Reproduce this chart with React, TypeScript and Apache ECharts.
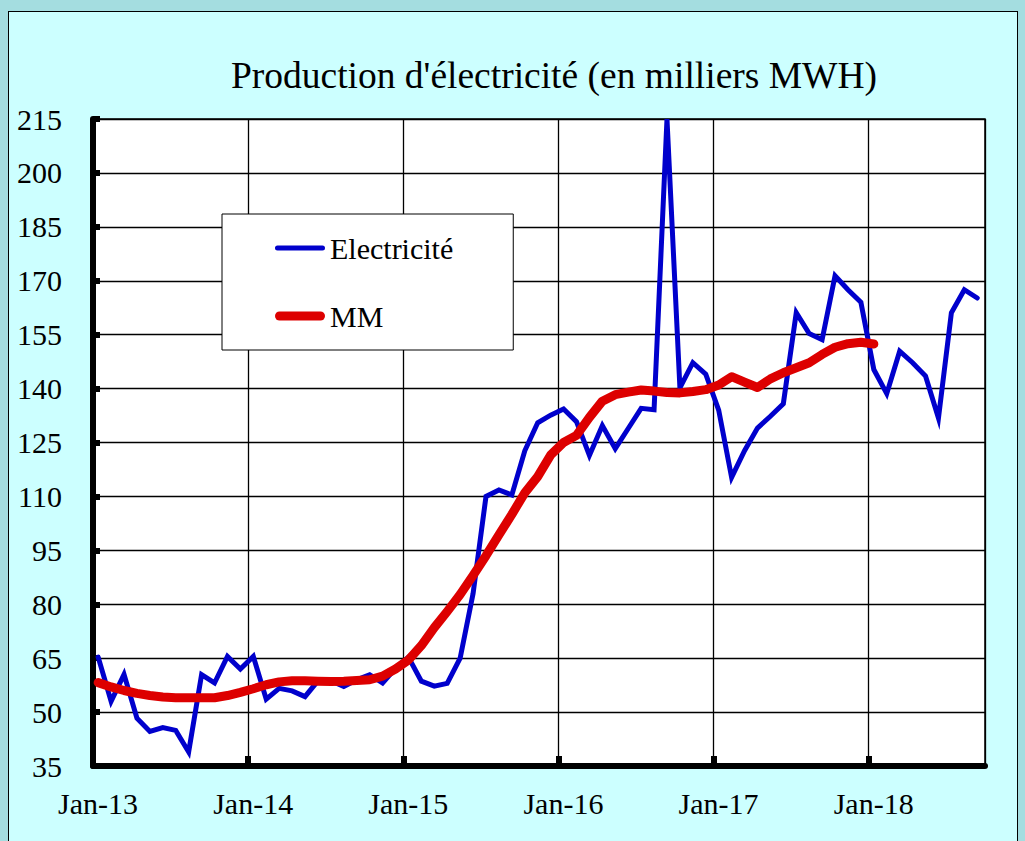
import React, { useEffect, useRef } from "react";
import * as echarts from "echarts";

// ---------- data ----------
const xTickLabels = ["Jan-13", "Jan-14", "Jan-15", "Jan-16", "Jan-17", "Jan-18"];
const yTickLabels = ["35", "50", "65", "80", "95", "110", "125", "140", "155", "170", "185", "200", "215"];
const seriesNames = ["Electricité", "MM"];
const titleText = "Production d'électricité (en milliers MWH)";

// monthly values, Jan-13 .. Sep-18
const electricite = [
  65.3, 53, 60.5, 48.3, 44.6, 45.7, 44.9, 38.9, 60.4, 58.1, 65.5, 62,
  65.5, 53.6, 56.6, 55.9, 54.3, 58.7, 58.7, 57.1, 59, 60.4, 58.1, 62.2,
  65.3, 58.6, 57.2, 58, 65, 83, 110, 111.8, 110.4, 122.7, 130.5, 132.6,
  134.3, 130.8, 121.4, 129.7, 123.3, 128.9, 134.5, 134.1, 215, 140.2, 147.2, 144,
  134, 115.3, 122.7, 129, 132.3, 135.8, 161.1, 155.3, 153.6, 171.4, 167.5, 164,
  145.3, 138.6, 150.4, 147.2, 143.5, 131.8, 161.1, 167.5, 165.2,
];

// moving average, Jan-13 .. Jan-18
const mm = [
  58.2, 57.0, 56.0, 55.2, 54.6, 54.2, 54.0, 54.0, 54.0, 54.0, 54.6, 55.5,
  56.5, 57.6, 58.4, 58.7, 58.7, 58.6, 58.5, 58.6, 58.8, 59.0, 60.0, 62.0,
  64.5, 68.5, 73.5, 78.0, 82.7, 88.0, 93.5, 99.3, 105.0, 111.0, 115.5, 121.5,
  125.0, 127.0, 132.0, 136.5, 138.3, 139.0, 139.6, 139.3, 138.9, 138.8, 139.2, 139.7,
  141.0, 143.3, 141.8, 140.3, 142.7, 144.4, 145.8, 147.2, 149.5, 151.5, 152.5, 152.9,
  152.4,
];

const Y_BASE = 35; // lowest tick
const Y_STEP = 15;
const MONTHS_SHOWN = 69;
const POINT_IN_MONTH = 0.4; // values dated within the month

const FONT = "'Liberation Serif', 'DejaVu Serif', serif";

// legend line icons (rounded bars of the series' thickness)
const BLUE_ICON = "path://M2.5,0 L47.5,0 A2.5,2.5 0 0 1 47.5,5 L2.5,5 A2.5,2.5 0 0 1 2.5,0 Z";
const RED_ICON = "path://M4.5,0 L45.5,0 A4.5,4.5 0 0 1 45.5,9 L4.5,9 A4.5,4.5 0 0 1 4.5,0 Z";

export default function App() {
  const ref = useRef<HTMLDivElement>(null);

  useEffect(() => {
    if (!ref.current) return;
    const chart = echarts.init(ref.current, undefined, { renderer: "svg" });

    const toPts = (arr: number[]) => arr.map((v, i) => [i + POINT_IN_MONTH, v - Y_BASE]);

    chart.setOption({
      animation: false,
      backgroundColor: "transparent",
      graphic: [
        {
          type: "text",
          x: 554,
          y: 75,
          silent: true,
          style: {
            text: titleText,
            fontSize: 37.5,
            fontFamily: FONT,
            fill: "#000",
            align: "center",
            verticalAlign: "middle",
          },
        },
      ],
      legend: {
        orient: "vertical",
        left: 222,
        top: 214,
        padding: [19, 60, 19, 53],
        itemGap: 38,
        itemWidth: 50,
        itemHeight: 14,
        backgroundColor: "#fff",
        borderColor: "#000",
        borderWidth: 1,
        borderRadius: 0,
        data: [
          { name: seriesNames[0], icon: BLUE_ICON },
          { name: seriesNames[1], icon: RED_ICON },
        ],
        textStyle: { fontFamily: FONT, fontSize: 30, color: "#000", lineHeight: 30 },
      },
      grid: {
        left: 93,
        right: 40,
        top: 119,
        bottom: 75,
        show: true,
        backgroundColor: "#fff",
        borderColor: "#000",
        borderWidth: 1.5,
      },
      xAxis: {
        type: "value",
        min: 0,
        max: MONTHS_SHOWN,
        interval: 12,
        axisLine: { show: true, onZero: false, lineStyle: { color: "#000", width: 6 } },
        axisTick: { show: true, inside: true, length: 10, lineStyle: { color: "#000", width: 6 } },
        splitLine: { show: true, lineStyle: { color: "#000", width: 1.3 } },
        axisLabel: {
          margin: 22,
          padding: [0, 0, 0, 10],
          fontFamily: FONT,
          fontSize: 30,
          color: "#000",
          showMaxLabel: false,
          formatter: (v: number) => (v % 12 === 0 ? xTickLabels[v / 12] ?? "" : ""),
        },
      },
      yAxis: {
        type: "value",
        min: 0,
        max: 180,
        interval: Y_STEP,
        axisLine: { show: true, lineStyle: { color: "#000", width: 6 } },
        axisTick: { show: true, inside: true, length: 7, lineStyle: { color: "#000", width: 6 } },
        splitLine: { show: true, lineStyle: { color: "#000", width: 1.3 } },
        axisLabel: {
          margin: 31,
          fontFamily: FONT,
          fontSize: 30,
          color: "#000",
          formatter: (v: number) => yTickLabels[Math.round(v / Y_STEP)] ?? "",
        },
      },
      series: [
        {
          name: seriesNames[0],
          type: "line",
          data: toPts(electricite),
          symbol: "none",
          lineStyle: { color: "#0000CC", width: 5, join: "miter", miterLimit: 20, cap: "round" },
          itemStyle: { color: "#0000CC" },
          z: 2,
        },
        {
          name: seriesNames[1],
          type: "line",
          data: toPts(mm),
          symbol: "none",
          lineStyle: { color: "#DD0000", width: 9, join: "round", cap: "round" },
          itemStyle: { color: "#DD0000" },
          z: 3,
        },
      ],
    });

    return () => chart.dispose();
  }, []);

  return (
    <div
      style={{
        position: "fixed",
        left: 0,
        top: 0,
        width: 1025,
        height: 841,
        background: "#A4DDE0",
        overflow: "hidden",
      }}
    >
      <div
        style={{
          position: "absolute",
          left: 8,
          top: 11,
          width: 1010,
          height: 850,
          background: "#CCFFFF",
          border: "1.5px solid #000",
          boxSizing: "border-box",
        }}
      />
      <div ref={ref} style={{ position: "absolute", left: 0, top: 0, width: 1025, height: 841 }} />
    </div>
  );
}
